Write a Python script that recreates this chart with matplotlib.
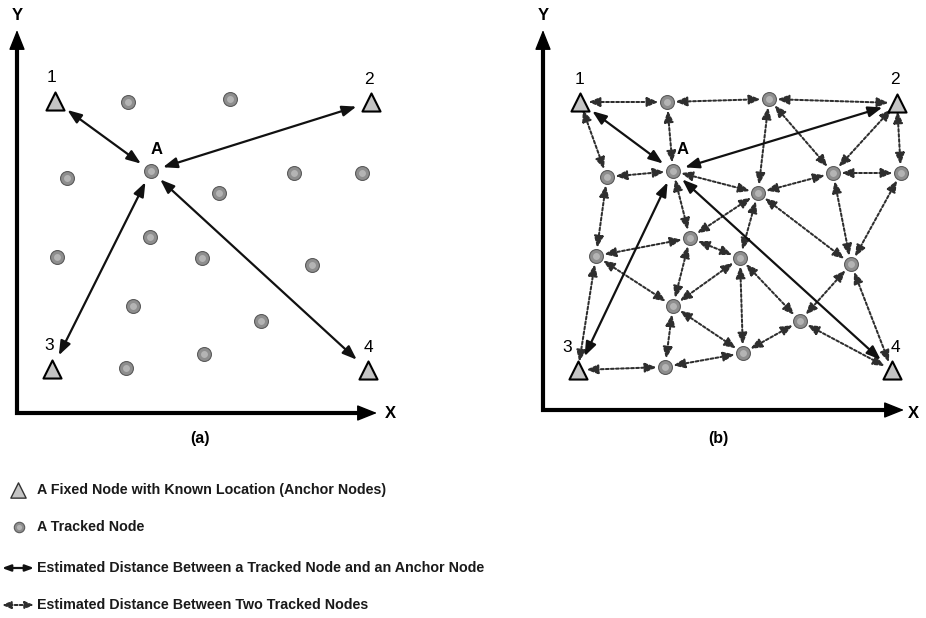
#! /usr/bin/env python3
import matplotlib
matplotlib.use('Agg')
from matplotlib import pyplot as plt

# Node positions are in picture pixels (x right, y down)
anchor_labels = ['1', '2', '3', '4']

# panel (a)
anchor_a_x = [55, 371, 52, 368]
anchor_a_y = [101, 102, 369, 370]
tracked_a_x = [128, 230, 151, 67, 294, 362, 219, 150, 57, 202, 312, 133, 261, 204, 126]
tracked_a_y = [102, 99, 171, 178, 173, 173, 193, 237, 257, 258, 265, 306, 321, 354, 368]
node_a_index = 2

# panel (b)
anchor_b_x = [580, 897, 578, 892]
anchor_b_y = [102, 103, 370, 370]
tracked_b_names = ['n1', 'n2', 'A', 'n4', 'n5', 'n6', 'n7', 'n8', 'n9',
                   'n10', 'n11', 'n12', 'n13', 'n14', 'n15']
tracked_b_x = [667, 769, 673, 607, 833, 901, 758, 690, 596, 740, 851, 673, 800, 743, 665]
tracked_b_y = [102, 99, 171, 177, 173, 173, 193, 238, 256, 258, 264, 306, 321, 353, 367]

solid_edges = [('A', '1'), ('A', '2'), ('A', '3'), ('A', '4')]
dotted_edges = [
    ('1', 'n1'), ('n1', 'n2'), ('n2', '2'),
    ('1', 'n4'), ('n1', 'A'), ('n4', 'A'),
    ('n2', 'n7'), ('n2', 'n5'), ('2', 'n5'), ('2', 'n6'),
    ('A', 'n7'), ('n7', 'n5'), ('n5', 'n6'), ('A', 'n8'),
    ('n4', 'n9'), ('n7', 'n8'), ('n7', 'n10'), ('n7', 'n11'),
    ('n5', 'n11'), ('n6', 'n11'),
    ('n8', 'n9'), ('n8', 'n10'), ('n8', 'n12'),
    ('n9', 'n12'), ('n9', '3'),
    ('n10', 'n12'), ('n10', 'n14'), ('n10', 'n13'),
    ('n11', 'n13'), ('n11', '4'),
    ('n12', 'n14'), ('n12', 'n15'),
    ('n13', 'n14'), ('n13', '4'),
    ('n15', 'n14'), ('n15', '3'),
]

legend_texts = ['A Fixed Node with Known Location (Anchor Nodes)',
                'A Tracked Node',
                'Estimated Distance Between a Tracked Node and an Anchor Node',
                'Estimated Distance Between Two Tracked Nodes']

fig = plt.figure(figsize=(9.26, 6.18), dpi=100)
ax = fig.add_axes([0, 0, 1, 1])
ax.set_xlim(0, 926)
ax.set_ylim(618, 0)
ax.axis('off')

font = ['Liberation Sans', 'DejaVu Sans']


def arrow(p1, p2, solid, sa, sb, head=1.0):
    if solid:
        style = '<|-|>,head_length=%.2f,head_width=%.2f' % (0.85 * head, 0.32 * head)
        props = dict(arrowstyle=style, lw=1.6, color='#111111',
                     shrinkA=sa, shrinkB=sb)
    else:
        style = '<|-|>,head_length=%.2f,head_width=%.2f' % (0.68 * head, 0.28 * head)
        props = dict(arrowstyle=style, lw=1.45, color='#2e2e2e',
                     linestyle=(0, (1.4, 1.1)), shrinkA=sa, shrinkB=sb)
    ax.annotate('', xy=p2, xytext=p1, arrowprops=props, zorder=2)


def draw_nodes(tx, ty, size=10):
    ax.scatter(tx, ty, s=size ** 2, color='#8e8e8e', edgecolor='#5a5a5a',
               lw=0.8, zorder=4)
    ax.scatter(tx, ty, s=(size * 0.5) ** 2, color='#b4b4b4', lw=0, zorder=5)


def draw_anchors(axx, ayy, label_dx):
    ax.scatter(axx, ayy, marker='^', s=13 ** 2, facecolor='#c4c4c4',
               edgecolor='black', lw=1.5, zorder=4)
    for lab, x, y, dx in zip(anchor_labels, axx, ayy, label_dx):
        ax.text(x + dx, y - 23, lab, ha='center', va='center', fontsize=12.5,
                family=font)


def draw_axes(x0, y0, xend, yend, lab_y, lab_x):
    ax.plot([x0, x0, xend - 12], [yend + 10, y0, y0], color='black', lw=3,
            solid_joinstyle='miter', solid_capstyle='butt')
    ap = dict(arrowstyle='-|>,head_length=1.25,head_width=0.5', lw=1,
              color='black', shrinkA=0, shrinkB=0)
    ax.annotate('', xy=(x0, yend), xytext=(x0, yend + 25), arrowprops=ap)
    ax.annotate('', xy=(xend, y0), xytext=(xend - 25, y0), arrowprops=ap)
    ax.text(lab_y[0], lab_y[1], 'Y', ha='center', va='center', fontsize=12,
            fontweight='bold', family=font)
    ax.text(lab_x[0], lab_x[1], 'X', ha='center', va='center', fontsize=12,
            fontweight='bold', family=font)


# ---- panel (a)
pos_a = {lab: (x, y) for lab, x, y in zip(anchor_labels, anchor_a_x, anchor_a_y)}
pos_a['A'] = (tracked_a_x[node_a_index], tracked_a_y[node_a_index])
draw_axes(17, 413, 377, 30, (17, 15), (390, 413))
for p, q in solid_edges:
    arrow(pos_a[p], pos_a[q], True, 9, 11)
draw_nodes(tracked_a_x, tracked_a_y)
draw_anchors(anchor_a_x, anchor_a_y, [-4, -2, -3, 0])
ax.text(pos_a['A'][0] + 6, pos_a['A'][1] - 22, 'A', ha='center', va='center',
        fontsize=12, fontweight='bold', family=font)
ax.text(200, 438, '(a)', ha='center', va='center', fontsize=11.5,
        fontweight='bold', family=font)

# ---- panel (b)
pos_b = {lab: (x, y) for lab, x, y in zip(anchor_labels, anchor_b_x, anchor_b_y)}
for name, x, y in zip(tracked_b_names, tracked_b_x, tracked_b_y):
    pos_b[name] = (x, y)
draw_axes(543, 410, 904, 30, (543, 15), (913, 413))
for p, q in dotted_edges:
    arrow(pos_b[p], pos_b[q], False, 6, 6)
for p, q in solid_edges:
    arrow(pos_b[p], pos_b[q], True, 9, 11)
draw_nodes(tracked_b_x, tracked_b_y)
draw_anchors(anchor_b_x, anchor_b_y, [0, -2, -11, 3])
ax.text(pos_b['A'][0] + 10, pos_b['A'][1] - 21, 'A', ha='center', va='center',
        fontsize=12, fontweight='bold', family=font)
ax.text(718, 438, '(b)', ha='center', va='center', fontsize=11.5,
        fontweight='bold', family=font)

# ---- legend
leg_y = [490, 527, 568, 605]
ax.scatter([18], [leg_y[0]], marker='^', s=11 ** 2, facecolor='#c4c4c4',
           edgecolor='#333333', lw=1.0)
draw_nodes([19], [leg_y[1]], size=7.5)
arrow((2, leg_y[2]), (34, leg_y[2]), True, 0, 0, head=0.6)
arrow((2, leg_y[3]), (34, leg_y[3]), False, 0, 0, head=0.75)
for txt, y in zip(legend_texts, leg_y):
    ax.text(37, y, txt, ha='left', va='center', fontsize=10.3,
            fontweight='bold', family=font, color='#1a1a1a')

fig.savefig('out.png', dpi=100)
